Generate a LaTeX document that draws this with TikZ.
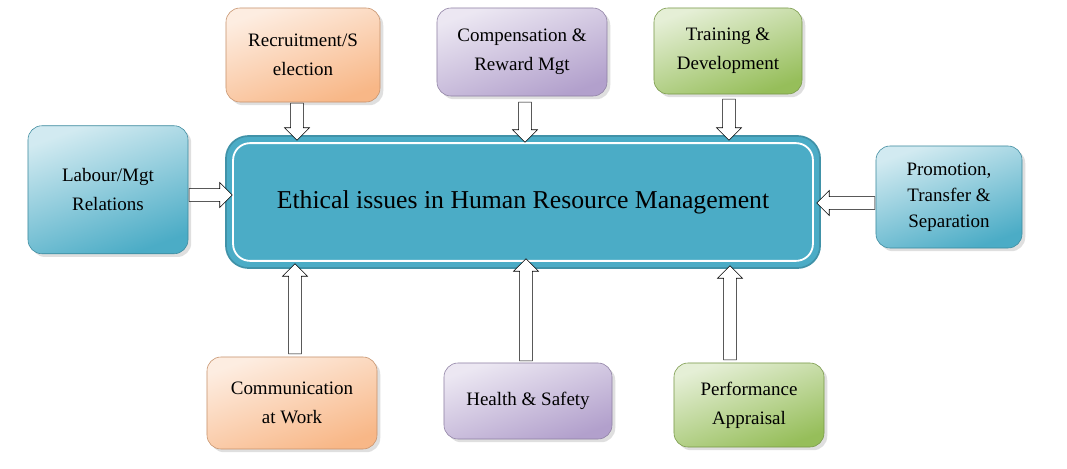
\documentclass[tikz,border=0pt]{standalone}
\usepackage{fontspec}
\setmainfont{Liberation Serif}
\usetikzlibrary{shapes.arrows,calc,shadows}
\definecolor{orbox}{RGB}{248,183,135}
\definecolor{pubox}{RGB}{178,160,204}
\definecolor{grbox}{RGB}{150,190,90}
\definecolor{blbox}{RGB}{75,172,198}
\tikzset{box/.style={rounded corners=10pt, draw=#1!80!black, thin, top color=#1!25, bottom color=#1,
  shading angle=20, align=center, font=\fontsize{13.5}{20.5}\selectfont, drop shadow={opacity=0.25}}}
\tikzset{flow/.style={single arrow, draw=black, fill=white, thin, inner sep=0pt, minimum width=0.62cm,
  single arrow head extend=0.15cm, text height=0.3cm, text depth=0pt}}
\newcommand{\flowarrow}[2]{%
  \path let \p1=(#1), \p2=(#2), \n1={atan2(\y2-\y1,\x2-\x1)}, \n2={veclen(\x2-\x1,\y2-\y1)} in
    node[flow, minimum height=\n2, rotate=\n1] at ($(#1)!0.5!(#2)$) {};}

\begin{document}
\begin{tikzpicture}[x=0.025cm,y=-0.025cm]
\clip (0,0) rectangle (1067,468);
\fill[white] (0,0) rectangle (1067,468);

%central box
\node (hrm) at (523,202)[draw=blbox!85!black, fill=blbox, rounded corners=16pt, line width=1.2pt,
  minimum width=14.85cm, minimum height=3.3cm, font=\fontsize{18.3}{22}\selectfont]
  {Ethical issues in Human Resource Management};
\draw[white, line width=1.3pt, rounded corners=12pt] ($(hrm.north west)+(8,8)$) rectangle ($(hrm.south east)+(-8,-8)$);

%top row
\node (rec) at (303,55)[box=orbox, minimum width=3.85cm, minimum height=2.35cm] {Recruitment/S\\election};
\node (comp) at (522,52)[box=pubox, minimum width=4.25cm, minimum height=2.2cm] {Compensation \&\\Reward Mgt};
\node (train) at (728,51)[box=grbox, minimum width=3.7cm, minimum height=2.15cm] {Training \&\\Development};

%sides
\node (lab) at (108,201)[box=blbox, minimum width=4cm, minimum height=3.2cm, yshift=8] {Labour/Mgt\\Relations};
\node (promo) at (949,197)[box=blbox, minimum width=3.65cm, minimum height=2.55cm, font=\fontsize{13.5}{18.5}\selectfont] {Promotion,\\Transfer \&\\Separation};

%bottom row
\node (comm) at (292,403)[box=orbox, minimum width=4.25cm, minimum height=2.3cm] {Communication\\at Work};
\node (health) at (528,401)[box=pubox, minimum width=4.2cm, minimum height=1.9cm] {Health \& Safety};
\node (perf) at (749,405)[box=grbox, minimum width=3.75cm, minimum height=2.1cm] {Performance\\Appraisal};

\node (src) at (128,481)[anchor=west, font=\fontsize{16}{18}\selectfont] {Source: Developed by the Author};

%arrows into the central box
\coordinate (a1) at (297,100); \coordinate (b1) at (297,137);
\coordinate (a2) at (525,99);  \coordinate (b2) at (525,139);
\coordinate (a3) at (729,96);  \coordinate (b3) at (729,137);
\coordinate (a4) at (186,195); \coordinate (b4) at (229,195);
\coordinate (a5) at (878,203); \coordinate (b5) at (820,203);
\coordinate (a6) at (295,357); \coordinate (b6) at (295,267);
\coordinate (a7) at (526,364); \coordinate (b7) at (526,262);
\coordinate (a8) at (730,363); \coordinate (b8) at (730,269);
\foreach \i in {1,...,8}{\flowarrow{a\i}{b\i}}
\end{tikzpicture}
\end{document}
